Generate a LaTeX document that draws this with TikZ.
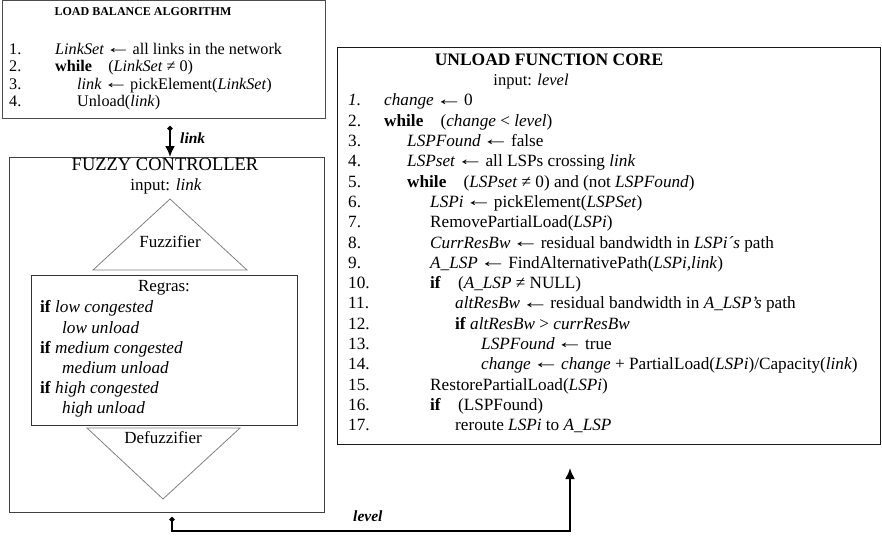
\documentclass[tikz,border=0pt]{standalone}
\usepackage{fontspec}
\usepackage{graphicx}
\setmainfont{Liberation Serif}
\usetikzlibrary{arrows.meta}
\newcommand{\lArr}{\hspace{-0.17em}\raisebox{0.05em}{\scalebox{1.6}[1.1]{←}}\hspace{-0.17em}}
\tikzset{
  txt/.style={anchor=west, inner sep=0pt, text height=0.7em, text depth=0.22em, font=\fontsize{17.2}{19}\selectfont},
  txtb/.style={anchor=west, inner sep=0pt, text height=0.66em, text depth=0.2em, font=\fontsize{16.2}{18}\selectfont},
  ctr/.style={anchor=center, inner sep=0pt, text height=0.7em, text depth=0.22em, font=\fontsize{17}{19}\selectfont},
  rule/.style={txt, font=\fontsize{17.2}{19}\selectfont},
  frame/.style={draw=black!70, line width=1pt},
  tri/.style={draw=black!50, line width=0.8pt},
  conn/.style={draw=black, line width=2pt, {Circle[length=5pt]}-{Latex[length=11pt,width=10pt]}},
  lbl/.style={anchor=west, inner sep=0pt, font=\fontsize{15.5}{17}\selectfont\bfseries\itshape},
}
\begin{document}
\begin{tikzpicture}[x=1pt,y=-1pt]
\useasboundingbox (0,0) rectangle (882,535);

% ---------- Load balance algorithm ----------
\coordinate (lbaNW) at (2,1);
\coordinate (lbaSE) at (325,118);
\draw[frame] (lbaNW) rectangle (lbaSE);
\node[ctr, font=\fontsize{12}{14}\selectfont\bfseries] (lbat) at (143,13) {LOAD BALANCE ALGORITHM};
\node[txtb] (l1n) at (9,52) {1.};
\node[txtb] (l1) at (55,52) {\textit{LinkSet} \lArr{} all links in the network};
\node[txtb] (l2n) at (9,69.4) {2.};
\node[txtb] (l2) at (55,69.4) {\textbf{while}\quad(\textit{LinkSet} ≠ 0)};
\node[txtb] (l3n) at (9,86.8) {3.};
\node[txtb] (l3) at (77,86.8) {\textit{link} \lArr{} pickElement(\textit{LinkSet})};
\node[txtb] (l4n) at (9,104) {4.};
\node[txtb] (l4) at (77,104) {Unload(\textit{link})};

% ---------- Fuzzy controller ----------
\coordinate (fcNW) at (9,157);
\coordinate (fcSE) at (324,512);
\draw[frame, draw=black!75] (fcNW) rectangle (fcSE);
\node[ctr, font=\fontsize{18.5}{20}\selectfont] (fct) at (165,168) {FUZZY CONTROLLER};
\node[ctr] (fci) at (166,188) {input: \textit{link}};

\coordinate (fzA) at (170,199);
\coordinate (fzL) at (93,270);
\coordinate (fzR) at (247,270);
\draw[tri] (fzA) -- (fzL) -- (fzR) -- cycle;
\node[ctr] (fz) at (170,245) {Fuzzifier};

\coordinate (rgNW) at (31,275);
\coordinate (rgSE) at (297,425);
\draw[frame, draw=black!80] (rgNW) rectangle (rgSE);
\node[ctr] (rgt) at (164,289) {Regras:};
\node[rule] (r1) at (40,310) {\textbf{if} \textit{low congested}};
\node[rule] (r2) at (62,331) {\textit{low unload}};
\node[rule] (r3) at (40,351) {\textbf{if} \textit{medium congested}};
\node[rule] (r4) at (62,371) {\textit{medium unload}};
\node[rule] (r5) at (40,391) {\textbf{if} \textit{high congested}};
\node[rule] (r6) at (62,411) {\textit{high unload}};

\coordinate (dfL) at (87,428);
\coordinate (dfR) at (240,428);
\coordinate (dfA) at (163,499);
\draw[tri] (dfL) -- (dfR) -- (dfA) -- cycle;
\node[ctr] (df) at (163,441) {Defuzzifier};

% ---------- Unload function core ----------
\coordinate (ufNW) at (337,48);
\coordinate (ufSE) at (880,444);
\draw[frame, draw=black!90] (ufNW) rectangle (ufSE);
\node[ctr, font=\fontsize{17.5}{19}\selectfont\bfseries] (uft) at (549,63) {UNLOAD FUNCTION CORE};
\node[ctr, font=\fontsize{16.5}{19}\selectfont] (ufi) at (531,83) {input: \textit{level}};

\node[txt] (u1n) at (348,103.5) {\textit{1.}};
\node[txt] (u1) at (384,103.5) {\textit{change} \lArr{} 0};
\node[txt] (u2n) at (348,123.8) {2.};
\node[txt] (u2) at (384,123.8) {\textbf{while}\quad(\textit{change} < \textit{level})};
\node[txt] (u3n) at (348,144.1) {3.};
\node[txt] (u3) at (407,144.1) {\textit{LSPFound} \lArr{} false};
\node[txt] (u4n) at (348,164.4) {4.};
\node[txt] (u4) at (407,164.4) {\textit{LSPset} \lArr{} all LSPs crossing \textit{link}};
\node[txt] (u5n) at (348,184.7) {5.};
\node[txt] (u5) at (407,184.7) {\textbf{while}\quad(\textit{LSPset} ≠ 0) and (not \textit{LSPFound})};
\node[txt] (u6n) at (348,205.0) {6.};
\node[txt] (u6) at (430,205.0) {\textit{LSPi} \lArr{} pickElement(\textit{LSPSet})};
\node[txt] (u7n) at (348,225.3) {7.};
\node[txt] (u7) at (430,225.3) {RemovePartialLoad(\textit{LSPi})};
\node[txt] (u8n) at (348,245.6) {8.};
\node[txt] (u8) at (430,245.6) {\textit{CurrResBw} \lArr{} residual bandwidth in \textit{LSPi´s} path};
\node[txt] (u9n) at (348,265.9) {9.};
\node[txt] (u9) at (430,265.9) {\textit{A\_LSP} \lArr{} FindAlternativePath(\textit{LSPi,link})};
\node[txt] (u10n) at (348,286.2) {10.};
\node[txt] (u10) at (430,286.2) {\textbf{if}\quad(\textit{A\_LSP} ≠ NULL)};
\node[txt] (u11n) at (348,306.5) {11.};
\node[txt] (u11) at (455,306.5) {\textit{altResBw} \lArr{} residual bandwidth in \textit{A\_LSP's} path};
\node[txt] (u12n) at (348,326.8) {12.};
\node[txt] (u12) at (455,326.8) {\textbf{if} \textit{altResBw} > \textit{currResBw}};
\node[txt] (u13n) at (348,347.1) {13.};
\node[txt] (u13) at (481,347.1) {\textit{LSPFound} \lArr{} true};
\node[txt] (u14n) at (348,367.4) {14.};
\node[txt] (u14) at (481,367.4) {\textit{change} \lArr{} \textit{change} + PartialLoad(\textit{LSPi})/Capacity(\textit{link})};
\node[txt] (u15n) at (348,387.7) {15.};
\node[txt] (u15) at (430,387.7) {RestorePartialLoad(\textit{LSPi})};
\node[txt] (u16n) at (348,408.0) {16.};
\node[txt] (u16) at (430,408.0) {\textbf{if}\quad(LSPFound)};
\node[txt] (u17n) at (348,428.3) {17.};
\node[txt] (u17) at (455,428.3) {reroute \textit{LSPi} to \textit{A\_LSP}};

% ---------- Connectors ----------
\coordinate (linkS) at (170,126);
\draw[conn] (linkS) -- (linkS |- fcNW);
\node[lbl] (linkL) at (180,138) {link};

\coordinate (lvlS) at (172,517);
\coordinate (lvlB) at (172,531);
\coordinate (lvlE) at (570,468);
\draw[conn] (lvlS) -- (lvlB) -- (lvlB -| lvlE) -- (lvlE);
\node[lbl] (lvlL) at (353,516) {level};
\end{tikzpicture}
\end{document}
